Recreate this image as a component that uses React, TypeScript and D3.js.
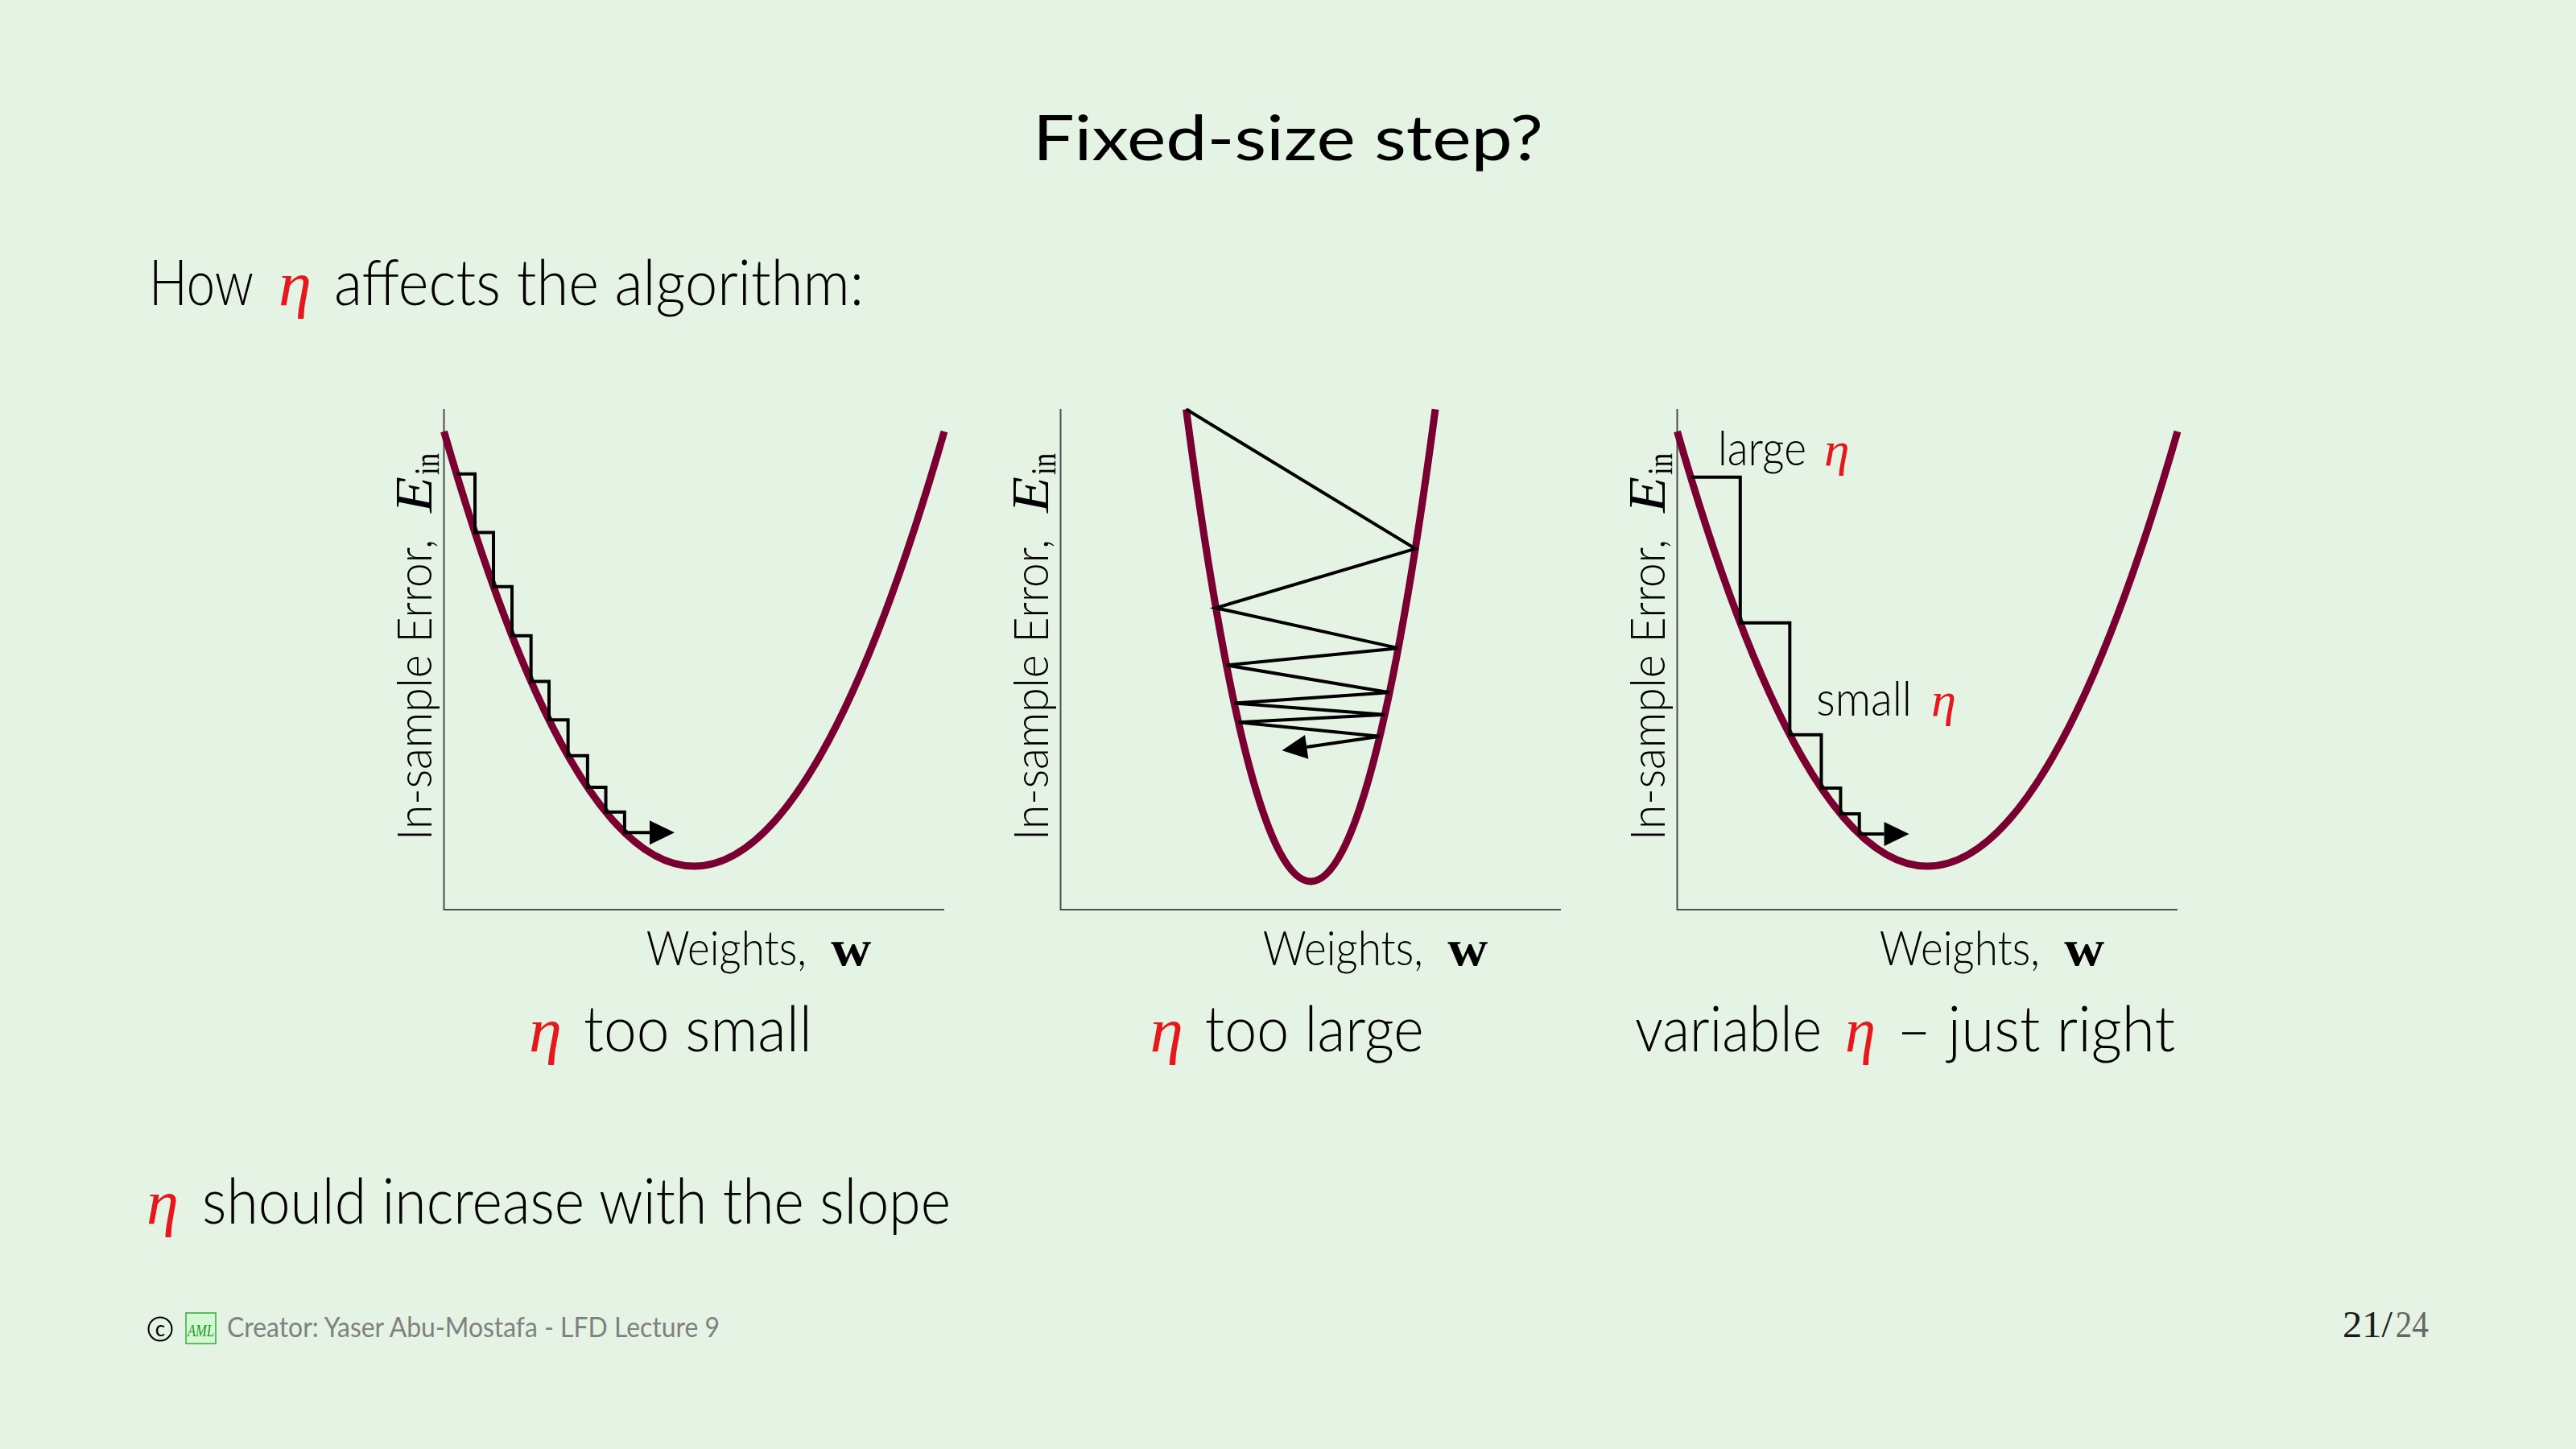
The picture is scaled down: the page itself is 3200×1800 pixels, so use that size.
import React from 'react';
import * as d3 from 'd3';

// error surfaces drawn as E(w) = base + curvature * w^2, for |w| <= span
const curveBase = [0, -0.035, 0];
const curveK = [1, 4.38, 1];
const curveSpan = [1, 0.498, 1];

// panel 1: fixed small step (w at each step)
const smallSteps = [-0.95, -0.876, -0.802, -0.728, -0.652, -0.58, -0.504, -0.426, -0.353, -0.278];
const smallTip = -0.078;
// panel 2: fixed large step, bouncing across the valley
const largeBounces = [-0.498, 0.418, -0.379, 0.35, -0.337, 0.315, -0.306, 0.296, -0.289, 0.276];
const largeTip = [-0.115, 0.266];
// panel 3: variable step
const variableSteps = [-0.946, -0.748, -0.55, -0.424, -0.347, -0.272];
const variableTip = -0.073;

const W = 3200;
const H = 1800;
const BG = '#e5f3e5';
const MAROON = '#7a0032';
const RED = '#e5191c';
const SANS = 'Lato, "Open Sans", sans-serif';
const SERIF = '"Liberation Serif", "DejaVu Serif", serif';

const PANEL_X0 = 551.5;
const PANEL_DX = 766;
const PANEL_W = 621.5;
const AXIS_TOP = 508;
const AXIS_BOTTOM = 1130;

type TProps = {
  x: number;
  y: number;
  len?: number;
  size: number;
  family?: string;
  weight?: number;
  italic?: boolean;
  fill?: string;
  children: React.ReactNode;
};

const T: React.FC<TProps> = ({ x, y, len, size, family = SANS, weight = 300, italic, fill = '#000', children }) => (
  <text
    x={x}
    y={y}
    fontSize={size}
    fontFamily={family}
    fontWeight={weight}
    fontStyle={italic ? 'italic' : 'normal'}
    fill={fill}
    textLength={len}
    lengthAdjust={len ? 'spacingAndGlyphs' : undefined}
  >
    {children}
  </text>
);

const Eta: React.FC<{ x: number; y: number; len: number; size: number }> = ({ x, y, len, size }) => (
  <T x={x} y={y} len={len} size={size} family={SERIF} weight={400} italic fill={RED}>
    η
  </T>
);

function arrowHead(fx: number, fy: number, tx: number, ty: number, length = 31, half = 15) {
  const dx = tx - fx;
  const dy = ty - fy;
  const d = Math.hypot(dx, dy);
  const ux = dx / d;
  const uy = dy / d;
  const bx = tx - ux * length;
  const by = ty - uy * length;
  const pts = [
    [tx, ty],
    [bx - uy * half, by + ux * half],
    [bx + uy * half, by - ux * half],
  ];
  return { base: [bx, by], points: pts.map((p) => p.join(',')).join(' ') };
}

const Panel: React.FC<{ i: number }> = ({ i }) => {
  const left = PANEL_X0 + i * PANEL_DX;
  const x = d3.scaleLinear().domain([-1, 1]).range([left, left + PANEL_W]);
  const y = d3.scaleLinear().domain([0, 1]).range([1076, 536]);
  const E = (w: number) => curveBase[i] + curveK[i] * w * w;

  // parabola as an exact quadratic Bezier
  const s = curveSpan[i];
  const curve = d3.path();
  curve.moveTo(x(-s), y(E(-s)));
  curve.quadraticCurveTo(x(0), y(curveBase[i] - curveK[i] * s * s), x(s), y(E(s)));

  const walk = d3.path();
  let head;
  if (i === 1) {
    walk.moveTo(x(largeBounces[0]), y(E(largeBounces[0])));
    largeBounces.slice(1).forEach((w) => walk.lineTo(x(w), y(E(w))));
    const last = largeBounces[largeBounces.length - 1];
    head = arrowHead(x(last), y(E(last)), x(largeTip[0]), y(largeTip[1]));
    walk.lineTo(head.base[0], head.base[1]);
  } else {
    const steps = i === 0 ? smallSteps : variableSteps;
    const tip = i === 0 ? smallTip : variableTip;
    walk.moveTo(x(steps[0]), y(E(steps[0])));
    for (let k = 1; k < steps.length; k++) {
      walk.lineTo(x(steps[k]), y(E(steps[k - 1])));
      walk.lineTo(x(steps[k]), y(E(steps[k])));
    }
    const last = steps[steps.length - 1];
    head = arrowHead(x(last), y(E(last)), x(tip), y(E(last)));
    walk.lineTo(head.base[0], head.base[1]);
  }

  return (
    <g>
      <path
        d={`M${left},${AXIS_TOP}V${AXIS_BOTTOM}H${left + PANEL_W}`}
        fill="none"
        stroke="#4d4d4d"
        strokeWidth={2}
      />
      <path d={curve.toString()} fill="none" stroke={MAROON} strokeWidth={9} />
      <path d={walk.toString()} fill="none" stroke="#000" strokeWidth={4} strokeLinejoin="miter" />
      <polygon points={head.points} fill="#000" />

      <g transform={`translate(${left - 16},1044) rotate(-90)`}>
        <T x={0} y={0} len={374} size={60}>In-sample Error,</T>
        <T x={407} y={0} len={45} size={65} family={SERIF} weight={400} italic>E</T>
        <T x={454} y={9} len={27} size={44} family={SERIF} weight={400}>in</T>
      </g>

      <T x={left + 251.3} y={1199} len={199} size={60}>Weights,</T>
      <T x={left + 480.8} y={1199} len={50} size={63} family={SERIF} weight={700}>w</T>
    </g>
  );
};

const App: React.FC = () => (
  <svg width={W} height={H} style={{ position: 'absolute', left: 0, top: 0 }}>
    <rect width={W} height={H} fill={BG} />

    <T x={1283} y={199} len={634} size={78} weight={400}>Fixed-size step?</T>

    <T x={185} y={379} len={130} size={78}>How</T>
    <Eta x={346} y={379} len={41} size={78} />
    <T x={415} y={379} len={658} size={78}>affects the algorithm:</T>

    {[0, 1, 2].map((i) => (
      <Panel key={i} i={i} />
    ))}

    <T x={2134} y={578} len={110} size={60}>large</T>
    <Eta x={2266} y={578} len={31.5} size={60} />
    <T x={2256.3} y={888.5} len={118.7} size={60}>small</T>
    <Eta x={2399} y={888.5} len={31} size={60} />

    <Eta x={657} y={1306} len={41} size={78} />
    <T x={725} y={1306} len={284} size={78}>too small</T>
    <Eta x={1428.6} y={1306} len={41.4} size={78} />
    <T x={1496.7} y={1306} len={272} size={78}>too large</T>
    <T x={2031} y={1306} len={232} size={78}>variable</T>
    <Eta x={2292} y={1306} len={38} size={78} />
    <T x={2356} y={1306} len={346} size={78}>– just right</T>

    <Eta x={182} y={1520} len={40} size={78} />
    <T x={251} y={1520} len={930} size={78}>should increase with the slope</T>

    <circle cx={199} cy={1651} r={14.5} fill="none" stroke="#000" strokeWidth={2} />
    <text x={199} y={1660} fontSize={26} fontFamily={SANS} textAnchor="middle">c</text>
    <rect x={231} y={1631} width={37} height={38} fill="#d4f7d4" stroke="#33aa33" strokeWidth={1.5} />
    <T x={233} y={1660} len={33} size={22} family={SERIF} weight={400} italic fill="#1a9a1a">AML</T>
    <T x={282} y={1661} len={612} size={34} weight={400} fill="#808080">
      Creator: Yaser Abu-Mostafa - LFD Lecture 9
    </T>

    <T x={2910} y={1661} len={62} size={46} family={SERIF} weight={400} fill="#1a1a1a">21/</T>
    <T x={2975.7} y={1661} len={41.3} size={46} family={SERIF} weight={400} fill="#666">24</T>
  </svg>
);

export default App;
